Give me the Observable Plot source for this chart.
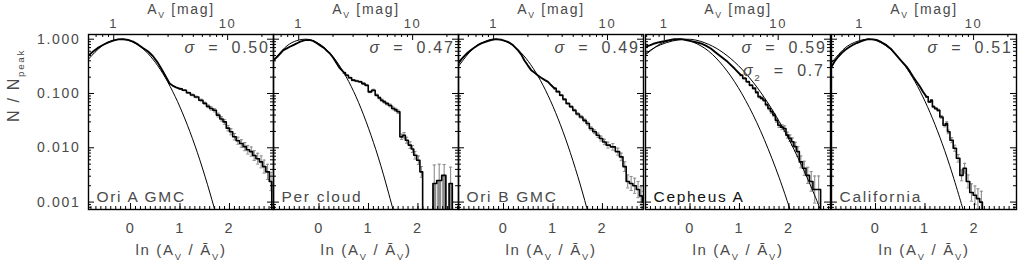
<!DOCTYPE html>
<html><head><meta charset="utf-8">
<script src="https://cdn.jsdelivr.net/npm/d3@7"></script>
<script src="https://cdn.jsdelivr.net/npm/@observablehq/plot@0.6"></script>
<style>
body{margin:0;background:#fff}
#chart{position:relative;width:1020px;height:267px;overflow:hidden;background:#fff}
#chart svg{position:absolute;top:0}
#chart text{letter-spacing:1.7px}
</style>
</head><body><div id="chart"></div>
<script>
// ---------- categories / labels ----------
const clouds = ["Ori A GMC", "Per cloud", "Ori B GMC", "Cepheus A", "California"];
const sigmaLabels = ["0.50", "0.47", "0.49", "0.59", "0.51"];
const sigma2Label = "0.7";
const lnMeanAv = [0.34, 0.41, 0.20, 0.52, 0.32];
const xDomains = [[-0.85, 2.89], [-0.92, 2.82], [-0.91, 2.83], [-0.90, 2.84], [-0.89, 2.85]];
const yDomain = [0.00073, 1.22];
const yTicks = [0.001, 0.01, 0.1, 1];
const lnTicks = [0, 1, 2];
const avTicks = [1, 10];
const avMinorTicks = [0.6, 0.7, 0.8, 0.9, 2, 3, 4, 5, 6, 7, 8, 9, 20, 30];

// ---------- series: x = ln(Av/<Av>), n = N/Npeak, e = error half-length (dex) ----------
const oriA_x = [-0.85,-0.75,-0.65,-0.55,-0.45,-0.35,-0.25,-0.15,-0.05,0.05,0.15,0.25,0.35,0.45,0.55,0.65,0.72,0.79,0.85,0.92,1.00,1.09,1.17,1.25,1.33,1.43,1.50,1.57,1.63,1.70,1.77,1.84,1.90,1.97,2.03,2.10,2.17,2.24,2.31,2.37,2.44,2.50,2.57,2.64,2.70,2.77,2.84,2.87];
const oriA_n = [0.50,0.60,0.70,0.79,0.87,0.94,0.99,1.00,0.97,0.90,0.80,0.69,0.60,0.49,0.37,0.26,0.20,0.153,0.14,0.13,0.122,0.115,0.103,0.094,0.086,0.075,0.066,0.058,0.053,0.049,0.040,0.034,0.030,0.023,0.0197,0.016,0.0135,0.012,0.0105,0.0092,0.0085,0.0072,0.0063,0.0055,0.0045,0.0036,0.0024,0.0001];
const oriA_e = [0,0,0,0,0,0,0,0,0,0,0,0,0,0,0,0,0,0,0,0,0.01,0.01,0.012,0.015,0.015,0.02,0.02,0.025,0.03,0.03,0.035,0.04,0.045,0.05,0.055,0.06,0.065,0.07,0.075,0.08,0.085,0.09,0.10,0.11,0.12,0.14,0.17,0];
const oriA_fitX = [-0.85,-0.6,-0.4,-0.2,0,0.2,0.4,0.6,0.8,1.0,1.2,1.4,1.6,1.75];
const oriA_fitN = [0.430,0.726,0.923,1,0.923,0.726,0.487,0.278,0.135,0.0561,0.0198,0.00598,0.00153,0.000497];

const per_x = [-0.92,-0.85,-0.78,-0.72,-0.65,-0.59,-0.52,-0.45,-0.38,-0.28,-0.20,-0.12,-0.05,0.03,0.10,0.16,0.22,0.29,0.36,0.41,0.46,0.51,0.56,0.63,0.69,0.76,0.83,0.90,0.96,1.03,1.10,1.17,1.22,1.27,1.32,1.37,1.44,1.50,1.55,1.60,1.67,1.72,1.77,1.84,1.89,1.94,2.01,2.07,2.12,2.20,2.28,2.33,2.43,2.53,2.60,2.66,2.73];
const per_n = [0.41,0.47,0.55,0.63,0.68,0.725,0.78,0.834,0.90,0.96,0.97,0.93,0.85,0.76,0.69,0.61,0.545,0.45,0.357,0.30,0.269,0.24,0.217,0.195,0.176,0.170,0.164,0.152,0.142,0.107,0.115,0.093,0.083,0.075,0.070,0.065,0.060,0.053,0.050,0.046,0.0159,0.017,0.0138,0.0112,0.0095,0.0073,0.0059,0.0036,0.0001,0.0001,0.0001,0.0022,0.0025,0.0031,0.0001,0.0022,0.0001];
const per_e = [0,0,0,0,0,0,0,0,0,0,0,0,0,0,0,0,0,0,0,0,0,0.01,0.01,0.01,0.012,0.012,0.012,0.014,0.015,0.015,0.016,0.018,0.018,0.02,0.02,0.022,0.024,0.026,0.028,0.03,0.05,0.05,0.055,0.06,0.065,0.07,0.08,0.10,0,0,0,0.34,0.3,0.2,0,0.3,0];
const perIso_x = [2.33, 2.43, 2.53, 2.66];
const perIso_n = [0.0022, 0.0025, 0.0031, 0.0022];
const per_fitX = [-0.94,-0.7,-0.5,-0.29,-0.1,0.1,0.3,0.5,0.7,0.9,1.1,1.3,1.5,1.55];
const per_fitN = [0.384,0.684,0.905,1,0.922,0.709,0.455,0.243,0.109,0.0405,0.0126,0.00327,0.000709,0.00047];

const oriB_x = [-0.91,-0.85,-0.78,-0.72,-0.65,-0.58,-0.52,-0.45,-0.38,-0.32,-0.25,-0.15,-0.05,0.09,0.19,0.29,0.36,0.42,0.49,0.56,0.63,0.69,0.76,0.83,0.90,0.96,1.03,1.10,1.17,1.23,1.30,1.37,1.43,1.50,1.57,1.64,1.70,1.77,1.84,1.91,1.97,2.04,2.11,2.21,2.31,2.38,2.45,2.51,2.58,2.65,2.72,2.78,2.83];
const oriB_n = [0.36,0.43,0.50,0.57,0.64,0.71,0.776,0.84,0.88,0.92,0.96,1.0,0.98,0.895,0.78,0.63,0.52,0.41,0.33,0.269,0.24,0.217,0.195,0.178,0.164,0.143,0.124,0.108,0.093,0.078,0.0654,0.057,0.049,0.042,0.037,0.032,0.028,0.0226,0.0197,0.017,0.0148,0.0128,0.0112,0.0104,0.0085,0.0068,0.0045,0.0024,0.0022,0.0020,0.0017,0.0013,0.0010];
const oriB_e = [0,0,0,0,0,0,0,0,0,0,0,0,0,0,0,0,0,0,0,0,0,0,0,0,0,0,0.01,0.01,0.012,0.012,0.014,0.016,0.018,0.02,0.022,0.025,0.028,0.03,0.035,0.04,0.045,0.05,0.055,0.06,0.065,0.07,0.09,0.12,0.13,0.14,0.15,0.17,0.2];
const oriB_fitX = [-0.95,-0.7,-0.5,-0.3,-0.17,0,0.2,0.4,0.6,0.8,1.0,1.2,1.4,1.6,1.75];
const oriB_fitN = [0.282,0.557,0.797,0.965,1,0.941,0.752,0.508,0.291,0.141,0.0578,0.0201,0.0059,0.00147,0.00046];

const cep_x = [-0.90,-0.80,-0.72,-0.62,-0.52,-0.42,-0.32,-0.18,-0.08,0.02,0.12,0.22,0.32,0.42,0.52,0.63,0.76,0.90,1.03,1.10,1.17,1.23,1.30,1.35,1.40,1.45,1.50,1.55,1.60,1.65,1.70,1.75,1.80,1.86,1.91,1.97,2.02,2.07,2.13,2.18,2.24,2.31,2.38,2.45,2.52,2.60,2.68,2.84];
const cep_n = [0.725,0.78,0.834,0.88,0.92,0.96,1.0,1.0,0.96,0.92,0.88,0.834,0.76,0.675,0.57,0.473,0.383,0.288,0.217,0.19,0.164,0.142,0.124,0.105,0.087,0.082,0.075,0.062,0.053,0.046,0.040,0.032,0.026,0.024,0.0226,0.0171,0.015,0.0129,0.0105,0.0085,0.0055,0.0042,0.0031,0.0024,0.0017,0.0017,0.0001,0.0001];
const cep_e = [0,0,0,0,0,0,0,0,0,0,0,0,0,0,0,0,0,0,0.01,0.01,0.012,0.012,0.014,0.016,0.018,0.02,0.02,0.022,0.025,0.03,0.03,0.035,0.04,0.045,0.05,0.055,0.06,0.07,0.08,0.09,0.11,0.13,0.15,0.18,0.25,0.25,0,0];
const cep_fitX = [-0.90,-0.7,-0.5,-0.22,0.0,0.3,0.6,0.9,1.2,1.5,1.8,2.0,2.1];
const cep_fitN = [0.515,0.718,0.893,1,0.933,0.678,0.381,0.165,0.0552,0.0143,0.00285,0.00084,0.00044];
const cep_fit2X = [-0.93,-0.6,-0.1,0.3,0.6,0.9,1.2,1.5,1.8,2.1,2.4,2.6,2.7];
const cep_fit2N = [0.515,0.786,1,0.857,0.623,0.381,0.196,0.0847,0.0308,0.0094,0.00241,0.00088,0.00052];

const cal_x = [-0.89,-0.82,-0.75,-0.68,-0.61,-0.52,-0.45,-0.38,-0.32,-0.24,-0.15,-0.05,0.02,0.12,0.22,0.32,0.42,0.52,0.63,0.70,0.76,0.83,0.90,0.96,1.03,1.10,1.13,1.17,1.22,1.27,1.33,1.40,1.44,1.47,1.54,1.60,1.67,1.74,1.80,1.87,1.94,2.01,2.07,2.14,2.18,2.85];
const cal_n = [0.31,0.40,0.48,0.56,0.64,0.725,0.79,0.85,0.895,0.95,1.0,0.99,0.97,0.88,0.776,0.65,0.51,0.40,0.31,0.25,0.203,0.165,0.133,0.108,0.087,0.070,0.075,0.057,0.053,0.049,0.037,0.026,0.028,0.0197,0.0138,0.0098,0.0064,0.0031,0.0042,0.0024,0.0015,0.00134,0.00116,0.0010,0.0001,0.0001];
const cal_e = [0,0,0,0,0,0,0,0,0,0,0,0,0,0,0,0,0,0,0,0,0,0,0,0,0.01,0.012,0.014,0.016,0.018,0.02,0.025,0.03,0.032,0.035,0.045,0.055,0.07,0.1,0.09,0.12,0.16,0.17,0.18,0.2,0,0];
const cal_fitX = [-0.89,-0.7,-0.5,-0.17,0.1,0.3,0.5,0.7,0.9,1.1,1.3,1.5,1.7,1.8];
const cal_fitN = [0.369,0.583,0.811,1,0.869,0.654,0.422,0.233,0.1107,0.045,0.0157,0.0047,0.0012,0.00058];

// ---------- layout ----------
const panelLeft = [88, 272.5, 458, 644.5, 831];
const PW = 185, MT = 34, MB = 58, H = 267;
const PH = H - MT - MB;

const rows = (xs, ns, es) => xs.map((x, i) => ({x, n: ns[i], e: es ? es[i] : 0}));
const pts = (xs, ns) => xs.map((x, i) => ({x, n: ns[i]}));

const series = [
  {data: rows(oriA_x, oriA_n, oriA_e), fits: [pts(oriA_fitX, oriA_fitN)]},
  {data: rows(per_x, per_n, per_e), fits: [pts(per_fitX, per_fitN)], iso: pts(perIso_x, perIso_n)},
  {data: rows(oriB_x, oriB_n, oriB_e), fits: [pts(oriB_fitX, oriB_fitN)]},
  {data: rows(cep_x, cep_n, cep_e), fits: [pts(cep_fitX, cep_fitN), pts(cep_fit2X, cep_fit2N)], sigma2: true},
  {data: rows(cal_x, cal_n, cal_e), fits: [pts(cal_fitX, cal_fitN)]}
];

const capSymbol = {draw(ctx, size) { const w = Math.sqrt(size / Math.PI); ctx.moveTo(-w, 0); ctx.lineTo(w, 0); }};
const TXT = "#4a4a4a";
const ERR = "#8c8c8c";

function panel(i) {
  const s = series[i];
  const [x0, x1] = xDomains[i];
  const m = lnMeanAv[i];
  const ml = i === 0 ? 88 : 3, mr = 3;
  const yMinor = [];
  for (const k of [-4, -3, -2, -1, 0]) for (let j = 2; j <= 9; j++) {
    const v = j * Math.pow(10, k);
    if (v >= yDomain[0] && v <= yDomain[1]) yMinor.push(v);
  }
  const xMinor = d3.range(Math.ceil(x0 * 10), Math.floor(x1 * 10) + 1).map(k => k / 10);
  const topMajor = avTicks.filter(a => Math.log(a) - m > x0 && Math.log(a) - m < x1);
  const topMinor = avMinorTicks.filter(a => Math.log(a) - m > x0 && Math.log(a) - m < x1);
  const errs = s.data.filter(d => d.e > 0);
  const lo = d => Math.max(d.n / Math.pow(10, d.e), 1e-5);
  const hi = d => d.n * Math.pow(10, d.e);
  const k = s.data.findIndex(d => d.e > 0);
  const bulk = s.data.slice(0, k + 1);
  const tail = s.data.slice(k);

  const marks = [
    // error bars
    s.iso ? Plot.ruleX(s.iso, {x: "x", y1: 1e-5, y2: "n", stroke: ERR, strokeWidth: 4, clip: true}) : null,
    Plot.ruleX(errs, {x: "x", y1: lo, y2: hi, stroke: ERR, strokeWidth: 1.1, clip: true}),
    Plot.dot(errs, {x: "x", y: hi, symbol: capSymbol, r: 1.6, stroke: ERR, strokeWidth: 1, clip: true}),
    Plot.dot(errs.filter(d => lo(d) > yDomain[0]), {x: "x", y: lo, symbol: capSymbol, r: 1.6, stroke: ERR, strokeWidth: 1, clip: true}),
    // fits
    ...s.fits.map(f => Plot.line(f, {x: "x", y: "n", curve: "natural", stroke: "#000", strokeWidth: 1, clip: true})),
    // data histogram: fine-binned bulk, stepped tail
    Plot.line(bulk, {x: "x", y: "n", curve: "linear", stroke: "#000", strokeWidth: 1.9, clip: true}),
    Plot.line(tail, {x: "x", y: "n", curve: "step", stroke: "#000", strokeWidth: 1.6, clip: true}),
    // inward ticks
    Plot.tickY(yTicks, {y: d => d, insetRight: PW - 6, stroke: "#000"}),
    Plot.tickY(yTicks, {y: d => d, insetLeft: PW - 6, stroke: "#000"}),
    Plot.tickY(yMinor, {y: d => d, insetRight: PW - 3, stroke: "#000"}),
    Plot.tickY(yMinor, {y: d => d, insetLeft: PW - 3, stroke: "#000"}),
    Plot.tickX(lnTicks, {x: d => d, insetTop: PH - 6, stroke: "#000"}),
    Plot.tickX(xMinor, {x: d => d, insetTop: PH - 3, stroke: "#000"}),
    Plot.tickX(topMajor, {x: d => Math.log(d) - m, insetBottom: PH - 6, stroke: "#000"}),
    Plot.tickX(topMinor, {x: d => Math.log(d) - m, insetBottom: PH - 3, stroke: "#000"}),
    Plot.frame({stroke: "#000", strokeWidth: 1.4}),
    // texts
    Plot.text(topMajor, {x: d => Math.log(d) - m, text: d => String(d), frameAnchor: "top", lineAnchor: "middle", dy: -11, fontSize: 13, fill: TXT}),
    Plot.text(["A_{V} [mag]"], {frameAnchor: "top", lineAnchor: "middle", dy: -25, fontSize: 14, fill: TXT}),
    Plot.text(lnTicks, {x: d => d, text: d => String(d), frameAnchor: "bottom", lineAnchor: "middle", dy: 19, fontSize: 14.5, fill: TXT}),
    Plot.text(["ln (A_{V} / Ā_{V})"], {frameAnchor: "bottom", lineAnchor: "middle", dy: 41, fontSize: 15, fill: TXT}),
    Plot.text(["*σ*  =  " + sigmaLabels[i]], {frameAnchor: "top-right", lineAnchor: "middle", dx: -4, dy: 13, fontSize: 16, fill: TXT}),
    s.sigma2 ? Plot.text(["*σ*_{2}  =  " + sigma2Label], {frameAnchor: "top-right", lineAnchor: "middle", dx: -6, dy: 36, fontSize: 16, fill: TXT}) : null,
    Plot.text([clouds[i]], {frameAnchor: "bottom-left", lineAnchor: "middle", textAnchor: "start", dx: 8, dy: -12, fontSize: 15.5, fill: i === 3 ? "#111" : TXT}),
  ];
  if (i === 0) {
    marks.push(Plot.text(yTicks, {y: d => d, text: d => d3.format(".3f")(d), frameAnchor: "left", textAnchor: "end", dx: -8, fontSize: 14, fill: TXT}));
    marks.push(Plot.text(["N / N_{peak}"], {frameAnchor: "left", rotate: -90, lineAnchor: "middle", dx: -75, fontSize: 16, fill: TXT}));
  }
  const svg = Plot.plot({
    width: ml + PW + mr, height: H,
    marginLeft: ml, marginRight: mr, marginTop: MT, marginBottom: MB,
    x: {domain: [x0, x1], axis: null},
    y: {type: "log", domain: yDomain, axis: null},
    style: {fontFamily: "'Liberation Sans', Arial, sans-serif", background: "transparent", overflow: "visible"},
    marks: marks.filter(Boolean)
  });
  svg.style.left = (panelLeft[i] - ml) + "px";
  return svg;
}

function richify(el) {
  const s = el.textContent;
  if (!/_\{|\*/.test(s)) return;
  const base = parseFloat(getComputedStyle(el).fontSize) || 14;
  const shift = base * 0.32;
  const parts = s.split(/(_\{[^}]*\}|\*[^*]+\*)/).filter(p => p);
  el.textContent = "";
  let shifted = false;
  for (const p of parts) {
    const t = document.createElementNS("http://www.w3.org/2000/svg", "tspan");
    if (p.startsWith("_{")) {
      t.textContent = p.slice(2, -1);
      t.setAttribute("font-size", (base * 0.62).toFixed(1));
      t.setAttribute("dy", shift.toFixed(1));
      shifted = true;
    } else {
      if (p.startsWith("*")) { t.textContent = p.slice(1, -1); t.setAttribute("font-style", "italic"); }
      else t.textContent = p;
      if (shifted) { t.setAttribute("dy", (-shift).toFixed(1)); shifted = false; }
    }
    el.appendChild(t);
  }
}

const chart = document.getElementById("chart");
for (let i = 0; i < 5; i++) {
  const svg = panel(i);
  chart.appendChild(svg);
  svg.querySelectorAll("text").forEach(richify);
}
</script>
</body></html>
